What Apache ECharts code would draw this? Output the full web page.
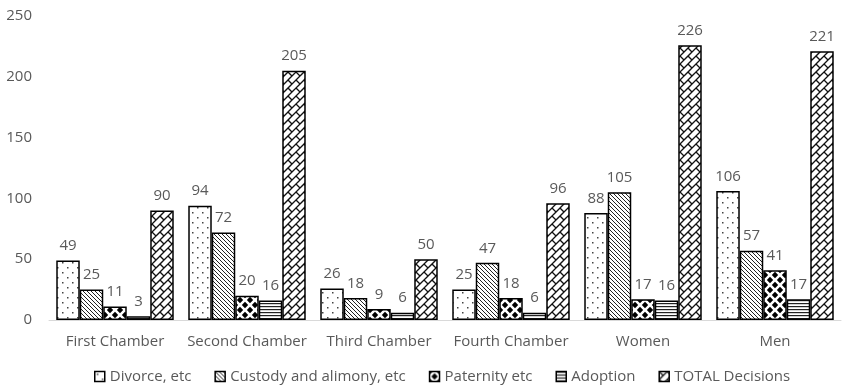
<!DOCTYPE html>
<html>
<head>
<meta charset="utf-8">
<script src="https://cdn.jsdelivr.net/npm/echarts@6/dist/echarts.min.js"></script>
<style>
  html, body { margin: 0; padding: 0; background: #fff; }
  #chart { width: 852px; height: 390px; }
</style>
</head>
<body>
<div id="chart"></div>
<script>
// Family court decisions by chamber and by sex of the claimant
const categories = ['First Chamber', 'Second Chamber', 'Third Chamber', 'Fourth Chamber', 'Women', 'Men'];
const divorce   = [49, 94, 26, 25, 88, 106];
const custody   = [25, 72, 18, 47, 105, 57];
const paternity = [11, 20, 9, 18, 17, 41];
const adoption  = [3, 16, 6, 6, 16, 17];
const total     = [90, 205, 50, 96, 226, 221];
const yTicks    = [0, 50, 100, 150, 200, 250];

// Monochrome fill patterns drawn on small tiles
function tile(size, draw) {
  const c = document.createElement('canvas');
  c.width = size; c.height = size;
  const ctx = c.getContext('2d');
  ctx.fillStyle = '#fff';
  ctx.fillRect(0, 0, size, size);
  draw(ctx, size);
  return { image: c, repeat: 'repeat' };
}

const dotFill = tile(10, (ctx) => {
  ctx.fillStyle = '#444';
  ctx.fillRect(2, 2, 1.5, 1.5);
  ctx.fillRect(7, 7, 1.5, 1.5);
});

const hatchFill = tile(4, (ctx, s) => {
  ctx.strokeStyle = '#222';
  ctx.lineWidth = 1;
  for (let k = -1; k <= 1; k++) {
    ctx.beginPath();
    ctx.moveTo(k * s, 0);
    ctx.lineTo(k * s + s, s);
    ctx.stroke();
  }
});

const diamondFill = tile(10, (ctx, s) => {
  ctx.fillStyle = '#000';
  const r = 3.2;
  const centers = [[0, 0], [s, 0], [0, s], [s, s], [s / 2, s / 2]];
  centers.forEach(([x, y]) => {
    ctx.beginPath();
    ctx.moveTo(x, y - r);
    ctx.lineTo(x + r, y);
    ctx.lineTo(x, y + r);
    ctx.lineTo(x - r, y);
    ctx.closePath();
    ctx.fill();
  });
});

const lineFill = tile(3, (ctx, s) => {
  ctx.fillStyle = '#222';
  ctx.fillRect(0, 0, s, 1.2);
});

const brickFill = tile(16, (ctx, s) => {
  ctx.strokeStyle = '#111';
  ctx.lineWidth = 1.3;
  const seg = (u0, u1, v) => {
    // u = x + y, v = x - y
    const p0 = [(u0 + v) / 2, (u0 - v) / 2];
    const p1 = [(u1 + v) / 2, (u1 - v) / 2];
    for (let dx = -1; dx <= 1; dx++) {
      for (let dy = -1; dy <= 1; dy++) {
        ctx.beginPath();
        ctx.moveTo(p0[0] + dx * s, p0[1] + dy * s);
        ctx.lineTo(p1[0] + dx * s, p1[1] + dy * s);
        ctx.stroke();
      }
    }
  };
  // brick courses running up-right
  [0, s / 2, s, 3 * s / 2, 2 * s].forEach(u => {
    ctx.beginPath();
    ctx.moveTo(u + s, -s);
    ctx.lineTo(-s, u + s);
    ctx.stroke();
  });
  // staggered joints between courses
  seg(0, s / 2, 0);
  seg(s / 2, s, s / 2);
  seg(s, 3 * s / 2, 0);
  seg(3 * s / 2, 2 * s, s / 2);
});

const textColor = '#595959';
const fontFamily = '"Open Sans", Lato, sans-serif';
const fontSize = 15;

function makeSeries(name, data, fill) {
  return {
    name: name,
    type: 'bar',
    data: data,
    barGap: '0%',
    barCategoryGap: '11%',
    itemStyle: { color: fill, borderColor: '#000', borderWidth: 1.5 },
    label: {
      show: true,
      position: 'top',
      distance: 7,
      color: textColor,
      fontSize: fontSize,
      fontFamily: fontFamily
    },
    emphasis: { disabled: true }
  };
}

const chart = echarts.init(document.getElementById('chart'));
chart.setOption({
  animation: false,
  backgroundColor: '#fff',
  grid: { left: 49, right: 11, top: 16, bottom: 70 },
  legend: {
    bottom: 1,
    left: 89,
    icon: 'rect',
    itemWidth: 10,
    itemHeight: 10,
    itemGap: 23,
    itemStyle: { borderColor: '#000', borderWidth: 1.5 },
    textStyle: { color: textColor, fontSize: fontSize, fontFamily: fontFamily },
    data: ['Divorce, etc', 'Custody and alimony, etc', 'Paternity etc', 'Adoption', 'TOTAL Decisions']
  },
  xAxis: {
    type: 'category',
    data: categories,
    axisLine: { lineStyle: { color: '#d9d9d9', width: 1 } },
    axisTick: { show: false },
    axisLabel: { interval: 0, color: textColor, fontSize: fontSize, fontFamily: fontFamily, margin: 14 }
  },
  yAxis: {
    type: 'value',
    min: yTicks[0],
    max: yTicks[yTicks.length - 1],
    interval: yTicks[1] - yTicks[0],
    splitLine: { show: false },
    axisLine: { show: false },
    axisTick: { show: false },
    axisLabel: { color: textColor, fontSize: fontSize, fontFamily: fontFamily, margin: 17 }
  },
  series: [
    makeSeries('Divorce, etc', divorce, dotFill),
    makeSeries('Custody and alimony, etc', custody, hatchFill),
    makeSeries('Paternity etc', paternity, diamondFill),
    makeSeries('Adoption', adoption, lineFill),
    makeSeries('TOTAL Decisions', total, brickFill)
  ]
});
</script>
</body>
</html>
